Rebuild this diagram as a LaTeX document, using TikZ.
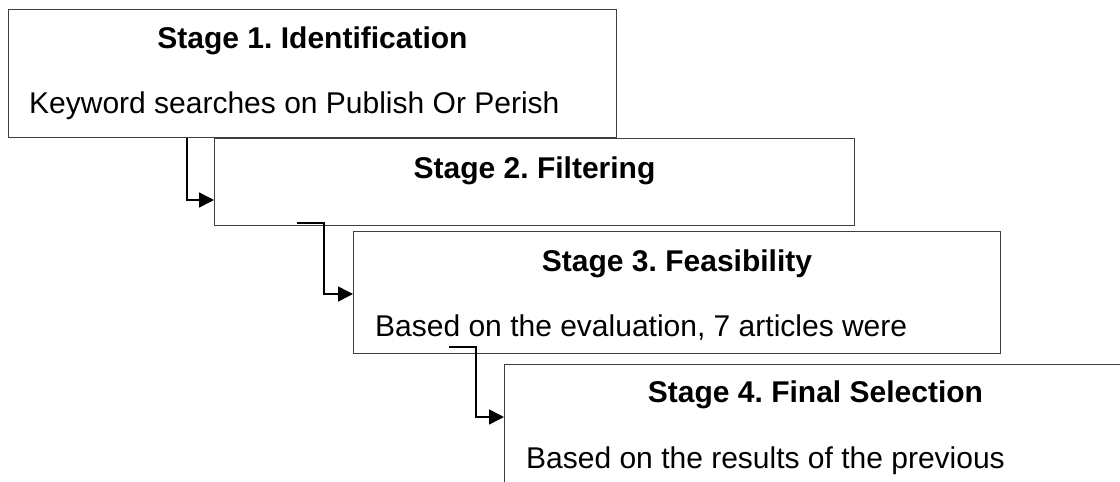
\documentclass[tikz,border=0pt]{standalone}
\usepackage{fontspec}
\setmainfont{Liberation Sans}
\usetikzlibrary{arrows.meta}
\frenchspacing
\definecolor{boxline}{HTML}{3F3F3F}
\tikzstyle{stagebox} = [rectangle, anchor=north west, inner sep=0pt, draw=boxline, line width=1pt]
\tikzstyle{title} = [font=\fontsize{30}{36}\selectfont\bfseries, inner sep=0pt]
\tikzstyle{body} = [font=\fontsize{30}{36}\selectfont, anchor=west, inner sep=0pt]
\tikzstyle{arrow} = [line width=1.5pt, -{Triangle[length=15pt,width=15pt]}]

\begin{document}
\begin{tikzpicture}[x=1pt, y=-1pt]
      \useasboundingbox (0,0) rectangle (1120,482);
      \clip (0,0) rectangle (1120,482);
      \node (stage1) [stagebox, minimum width=608pt, minimum height=128pt] at (8,9) {};
      \node (stage2) [stagebox, minimum width=640pt, minimum height=87pt] at ([xshift=206pt]stage1.south west) {};
      \node (stage3) [stagebox, minimum width=647pt, minimum height=122pt] at ([xshift=139pt,yshift=-5pt]stage2.south west) {};
      \node (stage4) [stagebox, minimum width=622pt, minimum height=130pt] at ([xshift=151pt,yshift=-10pt]stage3.south west) {};

      \node (title1) [title] at ([yshift=-32pt]stage1.north) {Stage 1. Identification};
      \node (body1) [body] at ([xshift=21pt,yshift=-97pt]stage1.north west) {Keyword searches on Publish Or Perish};
      \node (title2) [title] at ([yshift=-33pt]stage2.north) {Stage 2. Filtering};
      \node (title3) [title] at ([yshift=-33pt]stage3.north) {Stage 3. Feasibility};
      \node (body3) [body] at ([xshift=22pt,yshift=-97pt]stage3.north west) {Based on the evaluation, 7 articles were};
      \node (title4) [title] at ([yshift=-31pt]stage4.north) {Stage 4. Final Selection};
      \node (body4) [body] at ([xshift=22pt,yshift=-97pt]stage4.north west) {Based on the results of the previous};

      \draw[arrow] ([xshift=179pt]stage1.south west) |- ([yshift=26pt]stage2.south west);
      \draw[arrow] ([xshift=83pt,yshift=3pt]stage2.south west) -- ++(27,0) |- ([yshift=60pt]stage3.south west);
      \draw[arrow] ([xshift=96pt,yshift=7pt]stage3.south west) -- ++(27,0) |- ([yshift=-53pt]stage4.north west);
    \end{tikzpicture}
\end{document}
